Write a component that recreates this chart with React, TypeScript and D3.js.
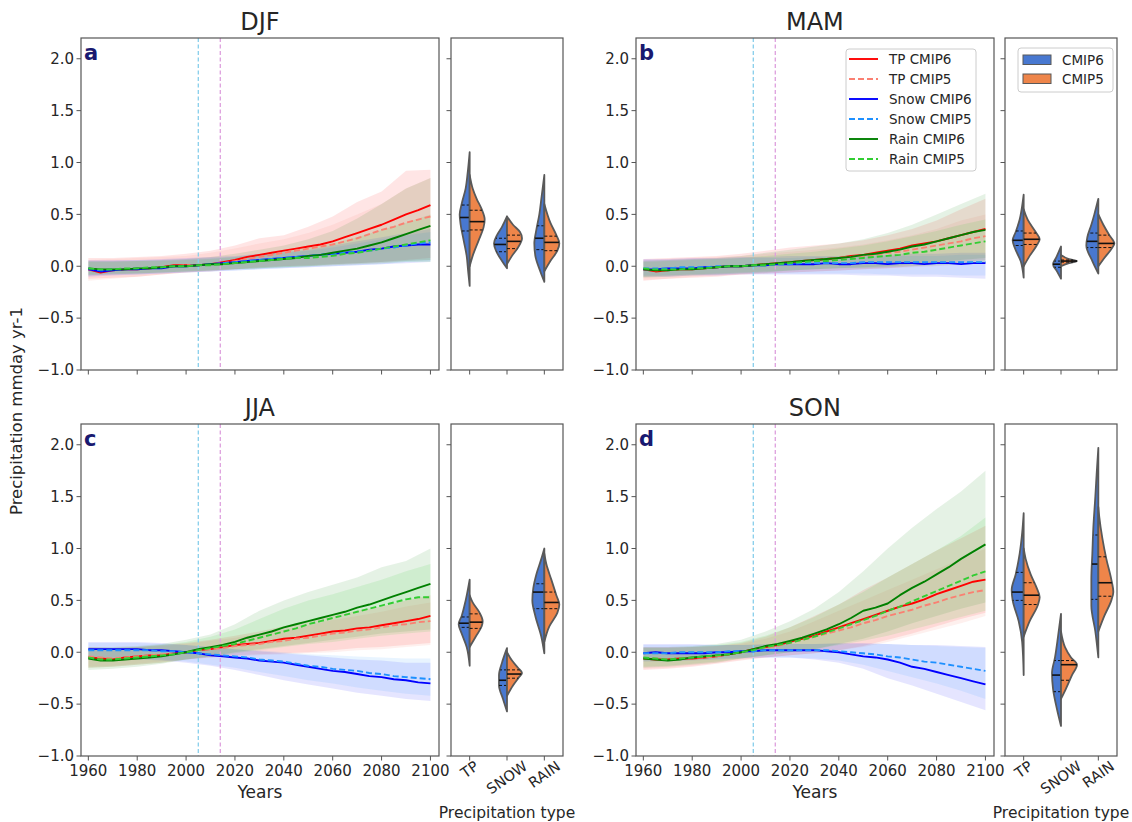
import React from "react";
import * as d3 from "d3";

// ---------------- DATA ----------------
const years5 = [1960,1965,1970,1975,1980,1985,1990,1995,2000,2005,2010,2015,2020,2025,2030,2035,2040,2045,2050,2055,2060,2065,2070,2075,2080,2085,2090,2095,2100];
const years10 = [1960,1970,1980,1990,2000,2010,2020,2030,2040,2050,2060,2070,2080,2090,2100];
const seasons = ["DJF","MAM","JJA","SON"];
const panelLetters = ["a","b","c","d"];
const yTicks = [-1,-0.5,0,0.5,1,1.5,2];
const xTicks = [1960,1980,2000,2020,2040,2060,2080,2100];
const violinCats = ["TP","SNOW","RAIN"];
const seriesLabels = ["TP CMIP6","TP CMIP5","Snow CMIP6","Snow CMIP5","Rain CMIP6","Rain CMIP5"];
const violinLabels = ["CMIP6","CMIP5"];
const refYears = [2005, 2014];

// DJF
const djfTp6 = [-0.03,-0.06,-0.04,-0.03,-0.03,-0.02,-0.01,0.01,0.01,0.01,0.02,0.04,0.06,0.09,0.11,0.13,0.15,0.17,0.19,0.21,0.24,0.28,0.32,0.36,0.40,0.45,0.50,0.54,0.59];
const djfTp5 = [-0.03,-0.04,-0.04,-0.03,-0.02,-0.02,-0.01,0.00,0.01,0.01,0.02,0.03,0.05,0.07,0.09,0.11,0.13,0.15,0.17,0.19,0.21,0.24,0.27,0.31,0.35,0.38,0.42,0.45,0.48];
const djfSnow6 = [-0.03,-0.05,-0.04,-0.03,-0.03,-0.02,-0.02,0.00,0.00,0.01,0.02,0.03,0.04,0.05,0.06,0.07,0.08,0.09,0.10,0.11,0.12,0.13,0.14,0.16,0.17,0.19,0.20,0.21,0.21];
const djfSnow5 = [-0.02,-0.04,-0.03,-0.03,-0.02,-0.02,-0.01,0.00,0.00,0.01,0.02,0.03,0.04,0.05,0.06,0.07,0.08,0.09,0.10,0.11,0.12,0.13,0.14,0.15,0.17,0.18,0.20,0.22,0.23];
const djfRain6 = [-0.02,-0.03,-0.03,-0.03,-0.02,-0.02,-0.01,0.00,0.00,0.01,0.02,0.02,0.03,0.04,0.05,0.06,0.07,0.08,0.10,0.11,0.13,0.15,0.17,0.20,0.23,0.27,0.31,0.35,0.39];
const djfRain5 = [-0.02,-0.03,-0.03,-0.02,-0.02,-0.01,-0.01,0.00,0.00,0.01,0.01,0.02,0.03,0.04,0.05,0.06,0.07,0.08,0.08,0.09,0.10,0.12,0.13,0.15,0.17,0.19,0.21,0.23,0.25];
const djfTp6Lo = [-0.12,-0.11,-0.10,-0.08,-0.06,-0.05,-0.03,-0.01,0.00,0.01,0.02,0.03,0.04,0.06,0.08];
const djfTp6Hi = [0.08,0.08,0.09,0.10,0.12,0.15,0.20,0.27,0.30,0.38,0.48,0.62,0.72,0.92,0.93];
const djfTp5Lo = [-0.14,-0.12,-0.10,-0.08,-0.06,-0.04,-0.03,-0.02,0.00,0.00,0.01,0.02,0.03,0.05,0.06];
const djfTp5Hi = [0.06,0.07,0.08,0.09,0.10,0.13,0.17,0.22,0.26,0.32,0.40,0.50,0.60,0.75,0.85];
const djfSnow6Lo = [-0.10,-0.09,-0.08,-0.07,-0.06,-0.05,-0.04,-0.03,-0.02,-0.01,0.00,0.01,0.02,0.03,0.04];
const djfSnow6Hi = [0.06,0.06,0.06,0.07,0.08,0.09,0.10,0.12,0.14,0.16,0.20,0.24,0.28,0.32,0.36];
const djfSnow5Lo = [-0.09,-0.08,-0.08,-0.07,-0.06,-0.05,-0.04,-0.03,-0.02,-0.01,0.00,0.01,0.02,0.04,0.05];
const djfSnow5Hi = [0.05,0.05,0.06,0.06,0.07,0.08,0.09,0.11,0.13,0.15,0.18,0.22,0.26,0.30,0.33];
const djfRain6Lo = [-0.09,-0.08,-0.07,-0.06,-0.05,-0.04,-0.03,-0.02,-0.01,0.00,0.02,0.03,0.04,0.05,0.06];
const djfRain6Hi = [0.05,0.05,0.05,0.06,0.07,0.09,0.12,0.16,0.20,0.26,0.34,0.46,0.60,0.75,0.85];
const djfRain5Lo = [-0.08,-0.07,-0.07,-0.06,-0.05,-0.04,-0.03,-0.02,-0.01,0.00,0.01,0.02,0.03,0.04,0.04];
const djfRain5Hi = [0.04,0.04,0.05,0.05,0.06,0.07,0.09,0.11,0.14,0.18,0.22,0.28,0.35,0.42,0.50];

// MAM
const mamTp6 = [-0.03,-0.05,-0.04,-0.03,-0.03,-0.02,-0.01,0.00,0.00,0.01,0.02,0.03,0.04,0.05,0.06,0.07,0.08,0.10,0.11,0.13,0.15,0.17,0.20,0.22,0.24,0.27,0.30,0.33,0.36];
const mamTp5 = [-0.03,-0.04,-0.04,-0.03,-0.02,-0.02,-0.01,0.00,0.00,0.01,0.02,0.03,0.04,0.05,0.06,0.07,0.08,0.09,0.10,0.11,0.13,0.14,0.16,0.18,0.20,0.22,0.24,0.27,0.29];
const mamSnow6 = [-0.03,-0.03,-0.02,-0.02,-0.02,-0.01,-0.01,0.00,0.00,0.01,0.01,0.02,0.02,0.02,0.02,0.03,0.02,0.02,0.03,0.03,0.02,0.03,0.03,0.02,0.03,0.03,0.02,0.03,0.03];
const mamSnow5 = [-0.02,-0.02,-0.02,-0.01,-0.01,-0.01,0.00,0.00,0.00,0.01,0.01,0.02,0.02,0.03,0.03,0.03,0.03,0.03,0.04,0.04,0.04,0.04,0.04,0.04,0.04,0.04,0.04,0.04,0.04];
const mamRain6 = [-0.03,-0.04,-0.04,-0.03,-0.03,-0.02,-0.01,0.00,0.00,0.01,0.02,0.03,0.04,0.05,0.06,0.07,0.08,0.09,0.11,0.12,0.14,0.16,0.19,0.21,0.24,0.27,0.30,0.33,0.35];
const mamRain5 = [-0.02,-0.03,-0.03,-0.03,-0.02,-0.02,-0.01,0.00,0.00,0.01,0.01,0.02,0.03,0.04,0.05,0.05,0.06,0.07,0.08,0.09,0.10,0.11,0.13,0.14,0.16,0.18,0.20,0.22,0.24];
const mamTp6Lo = [-0.14,-0.12,-0.11,-0.10,-0.08,-0.07,-0.06,-0.05,-0.04,-0.03,-0.02,0.00,0.02,0.04,0.06];
const mamTp6Hi = [0.07,0.08,0.09,0.10,0.12,0.15,0.18,0.20,0.22,0.25,0.30,0.36,0.44,0.55,0.65];
const mamTp5Lo = [-0.13,-0.12,-0.10,-0.09,-0.08,-0.07,-0.06,-0.05,-0.04,-0.03,-0.02,-0.01,0.00,0.02,0.03];
const mamTp5Hi = [0.06,0.07,0.08,0.09,0.10,0.12,0.14,0.16,0.18,0.21,0.25,0.30,0.36,0.44,0.50];
const mamSnow6Lo = [-0.10,-0.10,-0.09,-0.09,-0.08,-0.08,-0.08,-0.08,-0.08,-0.09,-0.09,-0.10,-0.10,-0.11,-0.12];
const mamSnow6Hi = [0.07,0.07,0.08,0.08,0.09,0.09,0.10,0.10,0.10,0.11,0.11,0.12,0.12,0.13,0.13];
const mamSnow5Lo = [-0.09,-0.09,-0.08,-0.08,-0.07,-0.07,-0.07,-0.07,-0.07,-0.07,-0.08,-0.08,-0.08,-0.09,-0.09];
const mamSnow5Hi = [0.06,0.06,0.07,0.07,0.08,0.08,0.08,0.09,0.09,0.09,0.10,0.10,0.10,0.11,0.11];
const mamRain6Lo = [-0.11,-0.10,-0.09,-0.08,-0.07,-0.06,-0.04,-0.03,-0.02,-0.01,0.00,0.02,0.04,0.06,0.08];
const mamRain6Hi = [0.05,0.06,0.07,0.08,0.10,0.13,0.16,0.19,0.22,0.26,0.32,0.40,0.50,0.60,0.70];
const mamRain5Lo = [-0.10,-0.09,-0.08,-0.07,-0.06,-0.05,-0.04,-0.03,-0.02,-0.02,-0.01,0.00,0.01,0.02,0.03];
const mamRain5Hi = [0.04,0.05,0.06,0.07,0.08,0.10,0.12,0.14,0.17,0.20,0.24,0.29,0.34,0.40,0.45];

// JJA
const jjaTp6 = [-0.05,-0.06,-0.07,-0.05,-0.04,-0.03,-0.03,-0.01,0.00,0.02,0.03,0.05,0.07,0.08,0.09,0.11,0.13,0.14,0.16,0.18,0.20,0.21,0.23,0.24,0.26,0.28,0.30,0.32,0.35];
const jjaTp5 = [-0.04,-0.05,-0.06,-0.05,-0.04,-0.03,-0.02,-0.01,0.00,0.02,0.03,0.04,0.06,0.07,0.08,0.10,0.11,0.13,0.14,0.16,0.18,0.19,0.21,0.22,0.24,0.26,0.27,0.29,0.30];
const jjaSnow6 = [0.03,0.03,0.03,0.03,0.03,0.02,0.02,0.01,0.00,-0.01,-0.03,-0.04,-0.05,-0.06,-0.08,-0.09,-0.10,-0.12,-0.14,-0.16,-0.18,-0.19,-0.21,-0.23,-0.24,-0.26,-0.27,-0.29,-0.30];
const jjaSnow5 = [0.02,0.02,0.02,0.02,0.02,0.02,0.01,0.01,0.00,-0.01,-0.02,-0.03,-0.04,-0.05,-0.07,-0.08,-0.09,-0.11,-0.13,-0.14,-0.16,-0.17,-0.18,-0.20,-0.21,-0.23,-0.24,-0.25,-0.26];
const jjaRain6 = [-0.06,-0.08,-0.08,-0.07,-0.06,-0.05,-0.04,-0.02,0.00,0.03,0.05,0.07,0.10,0.14,0.17,0.20,0.24,0.27,0.30,0.33,0.36,0.39,0.43,0.46,0.50,0.54,0.58,0.62,0.66];
const jjaRain5 = [-0.05,-0.07,-0.07,-0.06,-0.05,-0.04,-0.03,-0.02,0.00,0.02,0.04,0.06,0.08,0.11,0.14,0.17,0.20,0.23,0.27,0.30,0.33,0.36,0.39,0.42,0.45,0.48,0.51,0.53,0.53];
const jjaTp6Lo = [-0.15,-0.14,-0.12,-0.10,-0.07,-0.05,-0.03,-0.02,-0.01,0.00,0.02,0.04,0.05,0.07,0.09];
const jjaTp6Hi = [0.05,0.04,0.05,0.07,0.09,0.12,0.16,0.20,0.25,0.30,0.35,0.40,0.44,0.50,0.55];
const jjaTp5Lo = [-0.14,-0.13,-0.11,-0.09,-0.07,-0.05,-0.04,-0.03,-0.02,-0.01,0.00,0.02,0.03,0.05,0.07];
const jjaTp5Hi = [0.04,0.04,0.05,0.06,0.08,0.11,0.14,0.18,0.22,0.26,0.31,0.35,0.39,0.44,0.48];
const jjaSnow6Lo = [-0.06,-0.06,-0.07,-0.08,-0.10,-0.13,-0.17,-0.22,-0.27,-0.31,-0.35,-0.39,-0.42,-0.45,-0.47];
const jjaSnow6Hi = [0.10,0.10,0.10,0.09,0.07,0.05,0.03,0.01,-0.01,-0.03,-0.05,-0.07,-0.08,-0.10,-0.10];
const jjaSnow5Lo = [-0.05,-0.05,-0.06,-0.07,-0.09,-0.12,-0.15,-0.19,-0.23,-0.27,-0.30,-0.34,-0.37,-0.40,-0.42];
const jjaSnow5Hi = [0.09,0.09,0.09,0.08,0.07,0.05,0.03,0.02,0.00,-0.02,-0.03,-0.04,-0.05,-0.06,-0.06];
const jjaRain6Lo = [-0.17,-0.16,-0.14,-0.11,-0.07,-0.04,0.00,0.03,0.06,0.09,0.12,0.15,0.18,0.20,0.22];
const jjaRain6Hi = [0.05,0.05,0.06,0.08,0.12,0.17,0.27,0.40,0.50,0.58,0.65,0.72,0.82,0.88,1.00];
const jjaRain5Lo = [-0.15,-0.14,-0.12,-0.10,-0.07,-0.04,-0.01,0.02,0.05,0.08,0.10,0.13,0.16,0.18,0.20];
const jjaRain5Hi = [0.04,0.04,0.05,0.07,0.10,0.15,0.22,0.32,0.42,0.50,0.56,0.63,0.70,0.78,0.85];

// SON
const sonTp6 = [-0.06,-0.07,-0.07,-0.06,-0.06,-0.05,-0.04,-0.02,0.00,0.03,0.05,0.07,0.10,0.13,0.16,0.20,0.24,0.28,0.32,0.36,0.40,0.44,0.47,0.51,0.56,0.60,0.64,0.68,0.70];
const sonTp5 = [-0.06,-0.06,-0.07,-0.06,-0.05,-0.05,-0.04,-0.02,0.00,0.02,0.04,0.06,0.09,0.12,0.15,0.18,0.21,0.24,0.28,0.31,0.35,0.38,0.41,0.45,0.48,0.52,0.55,0.58,0.60];
const sonSnow6 = [-0.01,0.00,-0.01,-0.01,-0.01,-0.01,0.00,0.00,0.01,0.01,0.02,0.02,0.02,0.02,0.02,0.01,0.00,-0.02,-0.04,-0.05,-0.07,-0.10,-0.14,-0.16,-0.19,-0.22,-0.25,-0.28,-0.31];
const sonSnow5 = [-0.01,-0.01,-0.01,0.00,0.00,0.00,0.00,0.01,0.01,0.01,0.02,0.02,0.02,0.02,0.02,0.02,0.01,0.00,-0.01,-0.02,-0.04,-0.05,-0.07,-0.09,-0.10,-0.12,-0.14,-0.16,-0.18];
const sonRain6 = [-0.06,-0.07,-0.08,-0.07,-0.05,-0.04,-0.03,-0.02,0.00,0.03,0.06,0.08,0.11,0.14,0.18,0.22,0.27,0.33,0.40,0.43,0.47,0.55,0.62,0.68,0.75,0.82,0.90,0.97,1.04];
const sonRain5 = [-0.05,-0.06,-0.07,-0.06,-0.05,-0.04,-0.03,-0.02,0.00,0.02,0.05,0.07,0.09,0.12,0.15,0.19,0.23,0.27,0.31,0.35,0.40,0.44,0.49,0.54,0.59,0.64,0.69,0.74,0.78];
const sonTp6Lo = [-0.17,-0.16,-0.14,-0.11,-0.08,-0.05,-0.03,-0.01,0.02,0.06,0.12,0.18,0.25,0.32,0.38];
const sonTp6Hi = [0.05,0.05,0.05,0.06,0.09,0.15,0.24,0.35,0.46,0.60,0.72,0.85,0.98,1.10,1.22];
const sonTp5Lo = [-0.16,-0.15,-0.13,-0.10,-0.07,-0.05,-0.03,-0.01,0.02,0.05,0.10,0.16,0.22,0.28,0.35];
const sonTp5Hi = [0.04,0.04,0.05,0.06,0.08,0.13,0.20,0.30,0.40,0.50,0.60,0.70,0.80,0.90,1.00];
const sonSnow6Lo = [-0.09,-0.09,-0.08,-0.07,-0.06,-0.05,-0.05,-0.07,-0.10,-0.16,-0.25,-0.32,-0.40,-0.48,-0.56];
const sonSnow6Hi = [0.08,0.08,0.08,0.07,0.07,0.08,0.08,0.08,0.09,0.09,0.08,0.07,0.07,0.06,0.05];
const sonSnow5Lo = [-0.08,-0.08,-0.07,-0.06,-0.05,-0.05,-0.05,-0.06,-0.08,-0.12,-0.18,-0.24,-0.30,-0.37,-0.45];
const sonSnow5Hi = [0.07,0.07,0.07,0.07,0.07,0.07,0.08,0.08,0.08,0.08,0.08,0.07,0.06,0.05,0.04];
const sonRain6Lo = [-0.15,-0.14,-0.12,-0.10,-0.06,-0.03,0.00,0.03,0.08,0.13,0.20,0.28,0.35,0.42,0.48];
const sonRain6Hi = [0.05,0.05,0.06,0.08,0.12,0.20,0.30,0.42,0.58,0.78,1.00,1.20,1.38,1.55,1.75];
const sonRain5Lo = [-0.14,-0.13,-0.11,-0.09,-0.06,-0.03,0.00,0.03,0.07,0.11,0.16,0.22,0.28,0.34,0.40];
const sonRain5Hi = [0.04,0.04,0.05,0.07,0.10,0.16,0.24,0.34,0.46,0.58,0.72,0.85,0.98,1.12,1.30];

// Violin density profiles: [value, density] ; quartiles: [q1, median, q3]
const djfVTp6 = [[-0.19,0],[-0.05,1.5],[0.1,3],[0.25,6],[0.4,9],[0.5,10],[0.6,8],[0.75,4],[0.9,2],[1.1,0]];
const djfVTp5 = [[0.0,0],[0.1,3],[0.25,9],[0.38,14],[0.45,15],[0.55,12],[0.65,7],[0.75,3],[0.88,0]];
const djfVSnow6 = [[-0.02,0],[0.05,5],[0.15,11],[0.22,13],[0.3,10],[0.38,5],[0.48,0]];
const djfVSnow5 = [[0.02,0],[0.1,5],[0.18,11],[0.27,15],[0.33,13],[0.4,6],[0.48,0]];
const djfVRain6 = [[-0.15,0],[-0.05,4],[0.1,9],[0.22,10],[0.35,8],[0.5,5],[0.65,3],[0.88,0]];
const djfVRain5 = [[-0.05,0],[0.05,6],[0.15,13],[0.22,15],[0.3,12],[0.42,6],[0.6,0]];
const djfQTp6 = [0.34,0.47,0.59], djfQTp5 = [0.35,0.43,0.54];
const djfQSnow6 = [0.14,0.21,0.27], djfQSnow5 = [0.17,0.24,0.3];
const djfQRain6 = [0.16,0.27,0.39], djfQRain5 = [0.15,0.23,0.29];

const mamVTp6 = [[-0.11,0],[0.05,3],[0.18,9],[0.25,11],[0.33,8],[0.45,4],[0.55,2],[0.69,0]];
const mamVTp5 = [[0.0,0],[0.1,6],[0.2,13],[0.26,16],[0.33,12],[0.45,4],[0.55,0]];
const mamVSnow6 = [[-0.12,0],[-0.05,4],[0.02,8],[0.08,5],[0.19,0]];
const mamVSnow5 = [[0.0,0],[0.03,8],[0.05,16],[0.07,8],[0.11,0]];
const mamVRain6 = [[-0.07,0],[0.05,6],[0.2,12],[0.28,11],[0.4,7],[0.5,4],[0.65,0]];
const mamVRain5 = [[0.0,0],[0.08,6],[0.18,14],[0.22,16],[0.3,11],[0.4,5],[0.5,0]];
const mamQTp6 = [0.2,0.25,0.34], mamQTp5 = [0.21,0.26,0.32];
const mamQSnow6 = [-0.01,0.02,0.05], mamQSnow5 = [0.04,0.05,0.06];
const mamQRain6 = [0.18,0.24,0.32], mamQRain5 = [0.18,0.22,0.3];

const jjaVTp6 = [[-0.13,0],[0.05,3],[0.18,8],[0.27,11],[0.35,8],[0.5,4],[0.7,0]];
const jjaVTp5 = [[0.05,0],[0.15,6],[0.25,12],[0.3,13],[0.38,10],[0.48,3],[0.55,0]];
const jjaVSnow6 = [[-0.57,0],[-0.45,4],[-0.32,8],[-0.22,8],[-0.1,5],[0.04,0]];
const jjaVSnow5 = [[-0.42,0],[-0.32,6],[-0.24,12],[-0.2,15],[-0.15,11],[-0.08,5],[0.0,0]];
const jjaVRain6 = [[-0.01,0],[0.15,3],[0.35,9],[0.5,12],[0.62,11],[0.75,8],[0.9,3],[1.0,0]];
const jjaVRain5 = [[0.1,0],[0.25,5],[0.38,13],[0.46,15],[0.55,12],[0.7,7],[0.85,2],[0.95,0]];
const jjaQTp6 = [0.24,0.28,0.34], jjaQTp5 = [0.23,0.29,0.37];
const jjaQSnow6 = [-0.32,-0.27,-0.17], jjaQSnow5 = [-0.25,-0.21,-0.17];
const jjaQRain6 = [0.42,0.58,0.66], jjaQRain5 = [0.42,0.48,0.58];

const sonVTp6 = [[-0.22,0],[0.1,1.5],[0.3,5],[0.5,11],[0.6,12],[0.75,8],[0.95,4],[1.15,1.5],[1.34,0]];
const sonVTp5 = [[0.15,0],[0.3,6],[0.45,14],[0.53,16],[0.62,13],[0.75,7],[0.9,2],[1.0,0]];
const sonVSnow6 = [[-0.71,0],[-0.55,4],[-0.35,8],[-0.2,9],[-0.05,6],[0.15,3],[0.37,0]];
const sonVSnow5 = [[-0.45,0],[-0.35,5],[-0.22,11],[-0.12,16],[-0.05,10],[0.05,4],[0.2,0]];
const sonVRain6 = [[-0.05,0],[0.2,3],[0.45,7],[0.7,7],[0.95,6],[1.2,5],[1.5,3],[1.75,1.5],[1.97,0]];
const sonVRain5 = [[0.2,0],[0.35,6],[0.5,13],[0.58,15],[0.7,13],[0.9,8],[1.1,4],[1.3,1],[1.4,0]];
const sonQTp6 = [0.5,0.58,0.77], sonQTp5 = [0.46,0.55,0.67];
const sonQSnow6 = [-0.38,-0.22,-0.08], sonQSnow5 = [-0.27,-0.12,-0.08];
const sonQRain6 = [0.51,0.85,1.13], sonQRain5 = [0.54,0.67,0.92];

// ---------------- STRUCTURE ----------------
const panelData = [
  { lines: [djfTp6, djfTp5, djfSnow6, djfSnow5, djfRain6, djfRain5],
    lo: [djfTp6Lo, djfTp5Lo, djfSnow6Lo, djfSnow5Lo, djfRain6Lo, djfRain5Lo],
    hi: [djfTp6Hi, djfTp5Hi, djfSnow6Hi, djfSnow5Hi, djfRain6Hi, djfRain5Hi],
    v6: [djfVTp6, djfVSnow6, djfVRain6], v5: [djfVTp5, djfVSnow5, djfVRain5],
    q6: [djfQTp6, djfQSnow6, djfQRain6], q5: [djfQTp5, djfQSnow5, djfQRain5] },
  { lines: [mamTp6, mamTp5, mamSnow6, mamSnow5, mamRain6, mamRain5],
    lo: [mamTp6Lo, mamTp5Lo, mamSnow6Lo, mamSnow5Lo, mamRain6Lo, mamRain5Lo],
    hi: [mamTp6Hi, mamTp5Hi, mamSnow6Hi, mamSnow5Hi, mamRain6Hi, mamRain5Hi],
    v6: [mamVTp6, mamVSnow6, mamVRain6], v5: [mamVTp5, mamVSnow5, mamVRain5],
    q6: [mamQTp6, mamQSnow6, mamQRain6], q5: [mamQTp5, mamQSnow5, mamQRain5] },
  { lines: [jjaTp6, jjaTp5, jjaSnow6, jjaSnow5, jjaRain6, jjaRain5],
    lo: [jjaTp6Lo, jjaTp5Lo, jjaSnow6Lo, jjaSnow5Lo, jjaRain6Lo, jjaRain5Lo],
    hi: [jjaTp6Hi, jjaTp5Hi, jjaSnow6Hi, jjaSnow5Hi, jjaRain6Hi, jjaRain5Hi],
    v6: [jjaVTp6, jjaVSnow6, jjaVRain6], v5: [jjaVTp5, jjaVSnow5, jjaVRain5],
    q6: [jjaQTp6, jjaQSnow6, jjaQRain6], q5: [jjaQTp5, jjaQSnow5, jjaQRain5] },
  { lines: [sonTp6, sonTp5, sonSnow6, sonSnow5, sonRain6, sonRain5],
    lo: [sonTp6Lo, sonTp5Lo, sonSnow6Lo, sonSnow5Lo, sonRain6Lo, sonRain5Lo],
    hi: [sonTp6Hi, sonTp5Hi, sonSnow6Hi, sonSnow5Hi, sonRain6Hi, sonRain5Hi],
    v6: [sonVTp6, sonVSnow6, sonVRain6], v5: [sonVTp5, sonVSnow5, sonVRain5],
    q6: [sonQTp6, sonQSnow6, sonQRain6], q5: [sonQTp5, sonQSnow5, sonQRain5] },
];

const lineColors = ["#ff0000","#fa8072","#0000ff","#1e90ff","#008000","#32cd32"];
const lineDash = [null,"6,3",null,"6,3",null,"6,3"];
const bandOpacity = [0.1,0.12,0.1,0.1,0.1,0.12];
const violinColors = ["#4878d0","#ee854a"];

const W = 1132, H = 822;
const TS_W = 358, PH = 332, V_W = 112;
const layout = [
  { tsL: 81, top: 38, vL: 451 },
  { tsL: 636, top: 38, vL: 1005 },
  { tsL: 81, top: 424, vL: 451 },
  { tsL: 636, top: 424, vL: 1005 },
];
const FONT = "DejaVu Sans, Liberation Sans, Arial, sans-serif";
const TXT = "#262626";
const AX = "#555";
const ROT = 35;

const fmt = (v: number) => (v < 0 ? "\u2212" : "") + Math.abs(v).toFixed(1);

function measure(text: string, font: string) {
  const c = document.createElement("canvas").getContext("2d");
  if (!c) return text.length * 9;
  c.font = font;
  return c.measureText(text).width;
}

function widthAt(profile: number[][], v: number) {
  for (let i = 0; i < profile.length - 1; i++) {
    const [a, wa] = profile[i], [b, wb] = profile[i + 1];
    if (v >= a && v <= b) return wa + (wb - wa) * (v - a) / (b - a);
  }
  return 0;
}

function Panel({ idx }: { idx: number }) {
  const { tsL, top, vL } = layout[idx];
  const d = panelData[idx];
  const bottom = top + PH;
  const isBottom = idx >= 2;
  const x = d3.scaleLinear().domain([1957, 2103.5]).range([tsL, tsL + TS_W]);
  const y = d3.scaleLinear().domain([-1, 2.2]).range([bottom, top]);
  const vx = d3.scaleLinear().domain([-0.5, 2.5]).range([vL, vL + V_W]);
  const wScale = d3.scaleLinear().domain([0, 16]).range([0, 16]);
  const clipId = `clip${idx}`;

  const line = d3.line<number>().x((_, i) => x(years5[i])).y((v) => y(v));
  const area = d3.area<number>().x((_, i) => x(years10[i]));

  const violinHalf = (profile: number[][], cx: number, side: number) =>
    d3.area<number[]>()
      .y((p) => y(p[0]))
      .x0(cx)
      .x1((p) => cx + side * wScale(p[1]))
      .curve(d3.curveMonotoneY)(profile) as string;

  const catFont = `14.5px ${FONT}`;
  const th = (ROT * Math.PI) / 180;

  return (
    <g>
      <defs>
        <clipPath id={clipId}><rect x={tsL} y={top} width={TS_W} height={PH} /></clipPath>
      </defs>
      <g clipPath={`url(#${clipId})`}>
        {d.lo.map((lo, s) => (
          <path key={"b" + s}
            d={area.y0((_, i) => y(lo[i])).y1((_, i) => y(d.hi[s][i]))(lo) as string}
            fill={lineColors[s]} fillOpacity={bandOpacity[s]} stroke="none" />
        ))}
        {refYears.map((yr, k) => (
          <line key={"r" + k} x1={x(yr)} x2={x(yr)} y1={top} y2={bottom}
            stroke={k === 0 ? "#87ceeb" : "#dda0dd"} strokeWidth={1.3} strokeDasharray="4,2.5" />
        ))}
        {d.lines.map((vals, s) => (
          <path key={"l" + s} d={line(vals) as string} fill="none" stroke={lineColors[s]}
            strokeWidth={1.9} strokeDasharray={lineDash[s] || undefined} strokeLinejoin="round" />
        ))}
      </g>
      <rect x={tsL} y={top} width={TS_W} height={PH} fill="none" stroke={AX} strokeWidth={1.2} />
      {yTicks.map((t) => (
        <g key={"yt" + t}>
          <line x1={tsL - 4.5} x2={tsL} y1={y(t)} y2={y(t)} stroke={AX} strokeWidth={1} />
          <text x={tsL - 7} y={y(t)} dy="0.35em" textAnchor="end" fontSize={15} fill={TXT} fontFamily={FONT}>{fmt(t)}</text>
          <line x1={vL - 4.5} x2={vL} y1={y(t)} y2={y(t)} stroke={AX} strokeWidth={1} />
        </g>
      ))}
      {xTicks.map((t) => (
        <g key={"xt" + t}>
          <line x1={x(t)} x2={x(t)} y1={bottom} y2={bottom + 4.5} stroke={AX} strokeWidth={1} />
          {isBottom && (
            <text x={x(t)} y={bottom + 20} textAnchor="middle" fontSize={15} fill={TXT} fontFamily={FONT}>{t}</text>
          )}
        </g>
      ))}
      <text x={x(2030.2)} y={top - 8} textAnchor="middle" fontSize={24} fill={TXT} fontFamily={FONT}>{seasons[idx]}</text>
      <text x={tsL + 3} y={top + 22} fontSize={21} fontWeight="bold" fill="#191970" fontFamily={FONT}>{panelLetters[idx]}</text>
      {isBottom && (
        <text x={x(2030.2)} y={bottom + 42} textAnchor="middle" fontSize={17} fill={TXT} fontFamily={FONT}>Years</text>
      )}

      {violinCats.map((cat, c) => {
        const cx = vx(c);
        const halves = [
          { prof: d.v6[c], q: d.q6[c], side: -1, color: violinColors[0] },
          { prof: d.v5[c], q: d.q5[c], side: 1, color: violinColors[1] },
        ];
        const L = measure(cat, catFont);
        const bh = L * Math.sin(th) + 11 * Math.cos(th);
        const cy = bottom + 4 + bh / 2;
        return (
          <g key={"v" + c}>
            {halves.map((h, k) => (
              <g key={k}>
                <path d={violinHalf(h.prof, cx, h.side)} fill={h.color} stroke="#595959" strokeWidth={1.8} strokeLinejoin="round" />
                {h.q.map((qv, j) => {
                  const w = wScale(widthAt(h.prof, qv));
                  return (
                    <line key={j} x1={cx} x2={cx + h.side * w} y1={y(qv)} y2={y(qv)}
                      stroke="#111" strokeWidth={j === 1 ? 1.6 : 1}
                      strokeDasharray={j === 1 ? undefined : "3,2"} />
                  );
                })}
              </g>
            ))}
            <line x1={cx} x2={cx} y1={bottom} y2={bottom + 4.5} stroke={AX} strokeWidth={1} />
            {isBottom && (
              <text x={cx} y={cy} textAnchor="middle" dominantBaseline="central"
                transform={`rotate(${-ROT} ${cx} ${cy})`} fontSize={14.5} fill={TXT} fontFamily={FONT}>{cat}</text>
            )}
          </g>
        );
      })}
      <rect x={vL} y={top} width={V_W} height={PH} fill="none" stroke={AX} strokeWidth={1.2} />
      {isBottom && (
        <text x={vL + V_W / 2} y={bottom + 62} textAnchor="middle" fontSize={15.5} fill={TXT} fontFamily={FONT}>Precipitation type</text>
      )}

      {idx === 1 && (
        <g>
          <rect x={846} y={49} width={130} height={122} rx={3} fill="#fff" fillOpacity={0.85} stroke="#ccc" strokeWidth={1} />
          {seriesLabels.map((lab, s) => (
            <g key={lab}>
              <line x1={849} x2={878} y1={59 + 20 * s} y2={59 + 20 * s} stroke={lineColors[s]} strokeWidth={1.9}
                strokeDasharray={lineDash[s] || undefined} />
              <text x={889} y={59 + 20 * s} dy="0.35em" fontSize={13.5} fill={TXT} fontFamily={FONT}>{lab}</text>
            </g>
          ))}
          <rect x={1018} y={48} width={95} height={44} rx={3} fill="#fff" fillOpacity={0.85} stroke="#ccc" strokeWidth={1} />
          {violinLabels.map((lab, k) => (
            <g key={lab}>
              <rect x={1023} y={55 + 19 * k} width={28} height={9.5} fill={violinColors[k]} stroke="#595959" strokeWidth={1} />
              <text x={1062} y={60 + 19 * k} dy="0.35em" fontSize={13.5} fill={TXT} fontFamily={FONT}>{lab}</text>
            </g>
          ))}
        </g>
      )}
    </g>
  );
}

export default function App() {
  return (
    <div style={{ position: "absolute", left: 0, top: 0 }}>
      <svg width={W} height={H} style={{ display: "block", background: "#fff" }}>
        {[0, 1, 2, 3].map((i) => <Panel key={i} idx={i} />)}
        <text x={0} y={0} transform="translate(22,411) rotate(-90)" textAnchor="middle" fontSize={16.5}
          fill={TXT} fontFamily={FONT}>Precipitation mmday yr-1</text>
      </svg>
    </div>
  );
}
